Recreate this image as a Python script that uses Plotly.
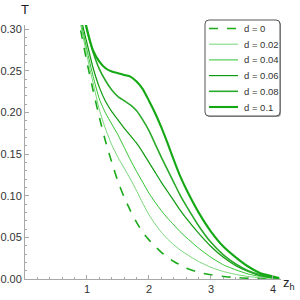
import plotly.graph_objects as go

z = [0.85, 0.9, 1.0, 1.1, 1.2, 1.3, 1.4, 1.5, 1.6, 1.7, 1.8, 1.9, 2.0, 2.1, 2.2, 2.3,
     2.4, 2.5, 2.6, 2.8, 3.0, 3.2, 3.4, 3.6, 3.8, 4.0, 4.1]

T_d0 = [0.320, 0.298, 0.260, 0.226, 0.194, 0.165, 0.140, 0.117, 0.098, 0.082, 0.068, 0.056,
        0.047, 0.039, 0.032, 0.026, 0.021, 0.017, 0.013, 0.008, 0.005, 0.003, 0.0017,
        0.0009, 0.0004, 0.0001, 0.0]
T_d002 = [0.330, 0.305, 0.268, 0.235, 0.203, 0.180, 0.161, 0.146, 0.133, 0.120, 0.106, 0.091,
          0.077, 0.066, 0.056, 0.048, 0.041, 0.035, 0.030, 0.021, 0.014, 0.009, 0.0055,
          0.003, 0.0015, 0.0006, 0.0003]
T_d004 = [0.340, 0.310, 0.275, 0.243, 0.216, 0.199, 0.186, 0.173, 0.158, 0.143, 0.129, 0.116,
          0.103, 0.092, 0.082, 0.073, 0.065, 0.057, 0.050, 0.037, 0.026, 0.017, 0.011,
          0.006, 0.003, 0.0012, 0.0006]
T_d006 = [0.350, 0.315, 0.283, 0.253, 0.230, 0.213, 0.201, 0.191, 0.181, 0.172, 0.163, 0.152,
          0.140, 0.128, 0.116, 0.105, 0.094, 0.083, 0.073, 0.055, 0.039, 0.026, 0.016,
          0.009, 0.004, 0.0017, 0.0008]
T_d008 = [0.365, 0.335, 0.298, 0.272, 0.252, 0.238, 0.227, 0.219, 0.214, 0.209, 0.202, 0.191,
          0.178, 0.162, 0.146, 0.131, 0.116, 0.101, 0.088, 0.064, 0.044, 0.029, 0.018,
          0.010, 0.005, 0.002, 0.001]
T_d01 = [0.370, 0.340, 0.300, 0.274, 0.261, 0.253, 0.249, 0.247, 0.245, 0.243, 0.237, 0.228,
         0.214, 0.199, 0.182, 0.163, 0.143, 0.124, 0.108, 0.080, 0.057, 0.039, 0.026,
         0.015, 0.007, 0.003, 0.0012]

labels = ["d = 0", "d = 0.02", "d = 0.04", "d = 0.06", "d = 0.08", "d = 0.1"]
series = [T_d0, T_d002, T_d004, T_d006, T_d008, T_d01]
colors = ["#1aaa1a", "#66d066", "#2ec22e", "#109a10", "#2aaa2a", "#14a814"]
widths = [1.6, 0.9, 1.0, 1.2, 1.6, 2.1]
dashes = ["dash", "solid", "solid", "solid", "solid", "solid"]

x_ticks = [1, 2, 3, 4]
y_ticks = [0.0, 0.05, 0.10, 0.15, 0.20, 0.25, 0.30]

# plot-area geometry (pixels)
L, R, TOP, BOT = 25, 281, 25, 279
W, H = R - L, BOT - TOP


def px(xp):
    return (xp - L) / W


def py(yp):
    return (BOT - yp) / H


FONT = "Liberation Sans, Arial"

fig = go.Figure()
for lab, ys, c, w, d in zip(labels, series, colors, widths, dashes):
    fig.add_trace(go.Scatter(x=z, y=ys, mode="lines", name=lab, showlegend=False,
                             line=dict(color=c, width=w, dash=d, shape="spline", smoothing=0.5)))

axis_common = dict(showgrid=False, zeroline=False, showline=True, linecolor="#a8a8a8",
                   linewidth=1, ticks="inside", tickcolor="#a8a8a8", ticklen=4,
                   automargin=False,
                   tickfont=dict(family=FONT, size=11, color="#333333"))

shapes = []
annotations = []


def rounded(x0, y0, x1, y1, r):
    X0, X1 = px(x0), px(x1)
    Y0, Y1 = py(y0), py(y1)
    rx, ry = r / W, r / H
    return (f"M {X0+rx},{Y0} L {X1-rx},{Y0} Q {X1},{Y0} {X1},{Y0-ry} "
            f"L {X1},{Y1+ry} Q {X1},{Y1} {X1-rx},{Y1} L {X0+rx},{Y1} "
            f"Q {X0},{Y1} {X0},{Y1+ry} L {X0},{Y0-ry} Q {X0},{Y0} {X0+rx},{Y0} Z")


shapes.append(dict(type="path", xref="paper", yref="paper",
                   path=rounded(206, 21, 281, 117, 4), fillcolor="#9a9a9a",
                   line=dict(width=0), layer="above"))
shapes.append(dict(type="path", xref="paper", yref="paper",
                   path=rounded(205, 20, 280, 116, 4), fillcolor="white",
                   line=dict(color="#555555", width=1), layer="above"))

for i, (lab, c, w, d) in enumerate(zip(labels, colors, widths, dashes)):
    yy = 28.5 + 15.7 * i
    shapes.append(dict(type="line", xref="paper", yref="paper",
                       x0=px(209), x1=px(238), y0=py(yy), y1=py(yy),
                       line=dict(color=c, width=w, dash=d), layer="above"))
    annotations.append(dict(text=lab, xref="paper", yref="paper", x=px(242), y=py(yy),
                            xanchor="left", yanchor="middle", showarrow=False,
                            font=dict(family=FONT, size=9.5, color="#333333")))

annotations.append(dict(text="T", xref="paper", yref="paper", x=px(24.5), y=1.0,
                        xanchor="center", yanchor="bottom", showarrow=False, yshift=6,
                        font=dict(family=FONT, size=13, color="#222222")))
annotations.append(dict(text="z<sub>h</sub>", xref="paper", yref="paper", x=1.0, y=0,
                        xanchor="left", yanchor="middle", showarrow=False, xshift=0,
                        yshift=-4, font=dict(family=FONT, size=13, color="#222222")))

fig.update_layout(
    width=300, height=300,
    margin=dict(l=L, r=300 - R, t=TOP, b=300 - BOT, autoexpand=False),
    paper_bgcolor="white", plot_bgcolor="white",
    xaxis=dict(range=[0, 4.13], tickvals=x_ticks, ticktext=[str(v) for v in x_ticks],
               minor=dict(ticks="inside", dtick=0.2, ticklen=2, tickcolor="#a8a8a8"),
               **axis_common),
    yaxis=dict(range=[0, 0.3049], tickvals=y_ticks, ticktext=["%.2f" % v for v in y_ticks],
               minor=dict(ticks="inside", dtick=0.01, ticklen=2, tickcolor="#a8a8a8"),
               **axis_common),
    showlegend=False,
    shapes=shapes,
    annotations=annotations,
)

fig.write_html("out.html", config={"displayModeBar": False},
               post_script="document.body.style.margin='0';document.body.style.padding='0';")
